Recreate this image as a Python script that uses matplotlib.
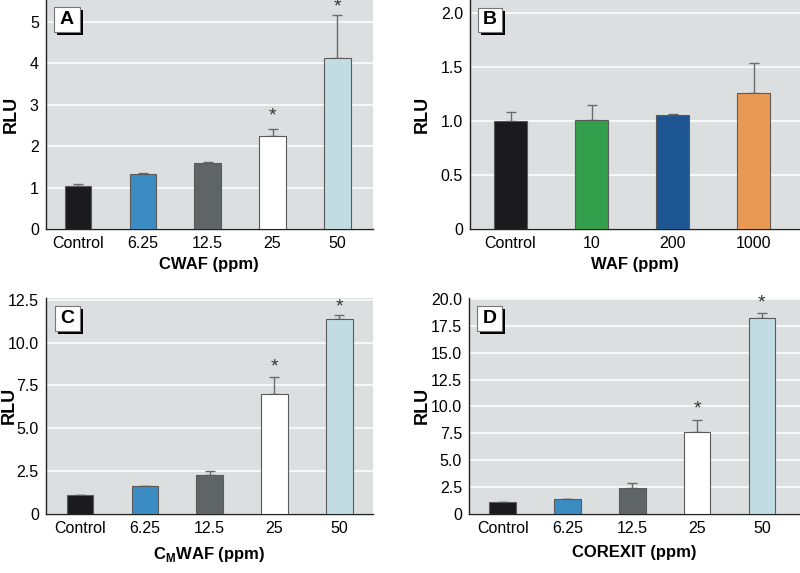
import matplotlib
matplotlib.use("Agg")
import matplotlib.pyplot as plt
from matplotlib.patches import Rectangle

plt.rcParams['font.family'] = ['Liberation Sans', 'DejaVu Sans']
plt.rcParams['mathtext.fontset'] = 'custom'
plt.rcParams['mathtext.rm'] = 'Liberation Sans:bold'
plt.rcParams['mathtext.bf'] = 'Liberation Sans:bold'

# panel A - CWAF
cats_a = ["Control", "6.25", "12.5", "25", "50"]
vals_a = [1.03, 1.32, 1.58, 2.23, 4.11]
errs_a = [0.05, 0.04, 0.03, 0.18, 1.05]
star_a = [False, False, False, True, True]

# panel B - WAF
cats_b = ["Control", "10", "200", "1000"]
vals_b = [1.00, 1.01, 1.055, 1.26]
errs_b = [0.08, 0.14, 0.015, 0.28]
star_b = [False, False, False, False]

# panel C - CMWAF
cats_c = ["Control", "6.25", "12.5", "25", "50"]
vals_c = [1.07, 1.6, 2.28, 7.0, 11.35]
errs_c = [0.04, 0.03, 0.2, 0.98, 0.27]
star_c = [False, False, False, True, True]

# panel D - COREXIT
cats_d = ["Control", "6.25", "12.5", "25", "50"]
vals_d = [1.09, 1.34, 2.4, 7.64, 18.26]
errs_d = [0.0, 0.0, 0.44, 1.05, 0.43]
star_d = [False, False, False, True, True]

cols5 = ["#1b1b1d", "#3b8cc3", "#5f6466", "#ffffff", "#c1dde3"]
cols4 = ["#1b1b1d", "#339e4b", "#1d5592", "#e89a55"]

W, H = 800, 573
fig = plt.figure(figsize=(8, 5.73), dpi=100)


def make_ax(l, r, t, b):
    return fig.add_axes([l / W, 1 - b / H, (r - l) / W, (b - t) / H])


def panel(ax, cats, vals, errs, stars, cols, ylim, ticks, ticklabels, xlabel, letter,
          xlim, rlu_px, box_px, star_px):
    ax.set_facecolor("#dcdfe0")
    bb = ax.get_position()
    aw, ah = bb.width * W, bb.height * H
    x = range(len(cats))
    ax.bar(x, vals, width=0.41, color=cols, edgecolor="#5a5a5a", linewidth=0.8, zorder=3)
    ax.errorbar(x, vals, yerr=[[0] * len(errs), errs], fmt="none", ecolor="#6a6a6a",
                elinewidth=1.0, capsize=3.5, capthick=1.0, zorder=2)
    for i in x:
        if stars[i]:
            off = star_px[i] * (ylim[1] - ylim[0]) / ah
            ax.text(i, vals[i] + errs[i] + off, "*", ha="center", va="center",
                    fontsize=14, color="#333333", zorder=4)
    ax.set_ylim(*ylim)
    ax.set_xlim(*xlim)
    ax.set_yticks(ticks)
    ax.set_yticklabels(ticklabels, fontsize=11.5)
    ax.set_xticks(list(x))
    ax.set_xticklabels(cats, fontsize=11.5)
    ax.tick_params(axis="x", length=0, pad=5)
    ax.tick_params(axis="y", length=0, pad=5)
    ax.grid(axis="y", color="white", linewidth=1.1, zorder=1)
    ax.set_axisbelow(True)
    for s in ["top", "right"]:
        ax.spines[s].set_visible(False)
    for s in ["left", "bottom"]:
        ax.spines[s].set_color("#222222")
        ax.spines[s].set_linewidth(1.0)
    ax.set_ylabel("RLU", fontsize=13, fontweight="bold", va="center")
    ax.yaxis.set_label_coords(-rlu_px / aw, 0.5)
    ax.set_xlabel(xlabel, fontsize=12, fontweight="bold", labelpad=4)

    # letter box with shadow
    bx, by, bw, bh = box_px
    ax.add_patch(Rectangle(((bx + 3) / aw, 1 - (by + bh + 3) / ah), bw / aw, bh / ah,
                           transform=ax.transAxes, facecolor="black", edgecolor="none",
                           zorder=5, clip_on=False))
    ax.add_patch(Rectangle((bx / aw, 1 - (by + bh) / ah), bw / aw, bh / ah,
                           transform=ax.transAxes, facecolor="white", edgecolor="#777777",
                           linewidth=0.8, zorder=6, clip_on=False))
    ax.text((bx + bw / 2) / aw, 1 - (by + bh / 2) / ah, letter, transform=ax.transAxes,
            ha="center", va="center", fontsize=14, fontweight="bold", zorder=7)


ax_a = make_ax(45.7, 373, 0, 229)
panel(ax_a, cats_a, vals_a, errs_a, star_a, cols5, (0, 5.52), [0, 1, 2, 3, 4, 5],
      ["0", "1", "2", "3", "4", "5"], "CWAF (ppm)", "A", (-0.5, 4.55),
      34.7, (8, 7, 26, 25), [0, 0, 0, 13, 8])

ax_b = make_ax(470, 800, 0, 229.3)
panel(ax_b, cats_b, vals_b, errs_b, star_b, cols4, (0, 2.12), [0, 0.5, 1.0, 1.5, 2.0],
      ["0", "0.5", "1.0", "1.5", "2.0"], "WAF (ppm)", "B", (-0.5, 3.57),
      47.5, (8, 8, 24, 24), [0, 0, 0, 0])

ax_c = make_ax(45.7, 373, 298, 513.7)
panel(ax_c, cats_c, vals_c, errs_c, star_c, cols5, (0, 12.6), [0, 2.5, 5.0, 7.5, 10.0, 12.5],
      ["0", "2.5", "5.0", "7.5", "10.0", "12.5"], "C$_{\\mathbf{M}}$WAF (ppm)", "C", (-0.53, 4.52),
      36.7, (9, 8, 25, 25), [0, 0, 0, 10, 8])
ax_c.xaxis.labelpad = 7

ax_d = make_ax(469, 800, 298, 513.7)
panel(ax_d, cats_d, vals_d, errs_d, star_d, cols5, (0, 20.1),
      [0, 2.5, 5.0, 7.5, 10.0, 12.5, 15.0, 17.5, 20.0],
      ["0", "2.5", "5.0", "7.5", "10.0", "12.5", "15.0", "17.5", "20.0"], "COREXIT (ppm)", "D",
      (-0.52, 4.59), 46.5, (8, 8, 25, 25), [0, 0, 0, 11, 10])
ax_d.xaxis.labelpad = 7

fig.savefig("out.png", dpi=100)
